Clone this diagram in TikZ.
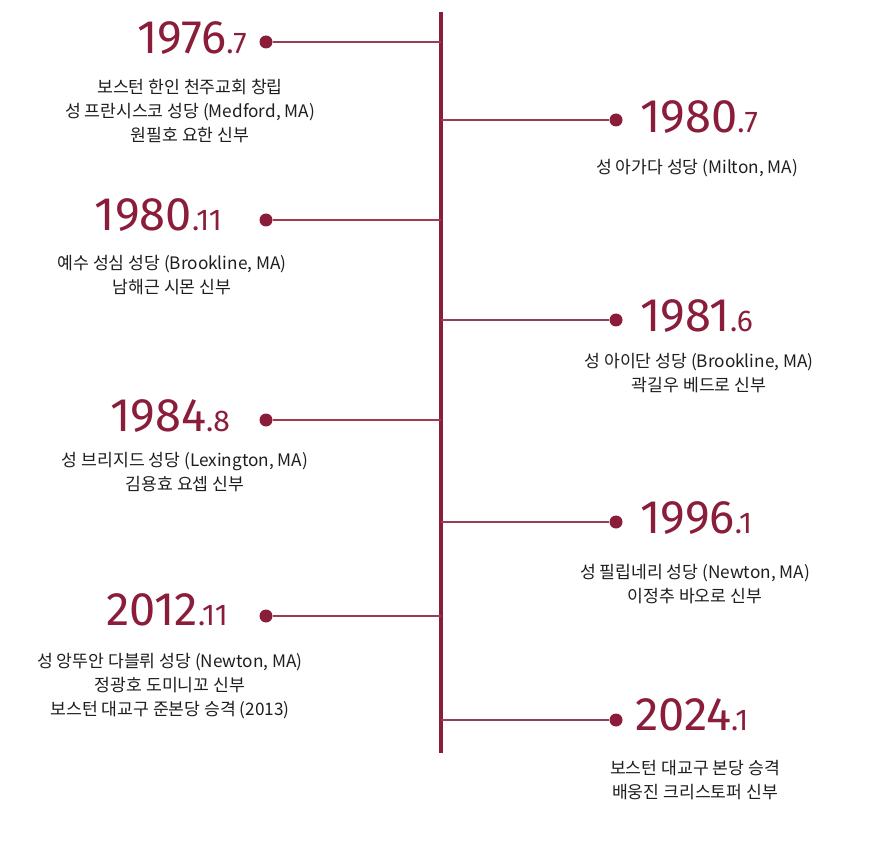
\documentclass[tikz,border=0pt]{standalone}
\usepackage{fontspec}
\newfontfamily\kr{Noto Sans CJK KR}
\newfontfamily\yr{Fira Sans}
\definecolor{wine}{HTML}{8A1D3A}
\definecolor{wineline}{HTML}{9A3C52}
\definecolor{ink}{HTML}{1E1E1E}
\tikzset{
  x=1pt,y=-1pt,
  yearL/.style={anchor=base east,inner sep=0pt,text=wine},
  yearR/.style={anchor=base west,inner sep=0pt,text=wine},
  desc/.style={anchor=north,inner sep=0pt,align=center,text=ink,font=\kr\fontsize{17.2}{24}\selectfont},
  dot/.style={circle,fill=wine,inner sep=0pt,minimum size=13pt},
  branch/.style={draw=wineline,line width=1.4pt},
  spine/.style={draw=wine,line width=4pt}
}
\newcommand{\yy}[2]{{\yr\fontsize{47}{47}\selectfont #1}{\yr\fontsize{30}{30}\selectfont .#2}}
\begin{document}
\begin{tikzpicture}
\useasboundingbox (0,0) rectangle (871,853);
\coordinate (top) at (441,12);
\coordinate (bot) at (441,753);
\draw[spine] (top) -- (bot);
% left entries
\foreach \n/\y in {a/42,b/220,c/420,d/616}{
  \node[dot] (dot\n) at (266,\y) {};
  \coordinate (sp\n) at (441,\y);
  \draw[branch] (dot\n) -- (sp\n);
}
\foreach \n/\y in {e/120,f/320,g/522,h/720}{
  \node[dot] (dot\n) at (616,\y) {};
  \coordinate (sp\n) at (441,\y);
  \draw[branch] (sp\n) -- (dot\n);
}
\node[yearL] (ya) at (247,54) {\yy{1976}{7}};
\node[desc] (ta) at (190,79) {보스턴 한인 천주교회 창립\\성 프란시스코 성당 (Medford, MA)\\원필호 요한 신부};
\node[yearL] (yb) at (222,231) {\yy{1980}{11}};
\node[desc] (tb) at (172,255) {예수 성심 성당 (Brookline, MA)\\남해근 시몬 신부};
\node[yearL] (yc) at (230,431) {\yy{1984}{8}};
\node[desc] (tc) at (185,452) {성 브리지드 성당 (Lexington, MA)\\김용효 요셉 신부};
\node[yearL] (yd) at (228,625) {\yy{2012}{11}};
\node[desc] (td) at (170,653) {성 앙뚜안 다블뤼 성당 (Newton, MA)\\정광호 도미니꼬 신부\\보스턴 대교구 준본당 승격 (2013)};
% right entries
\node[yearR] (ye) at (640,133) {\yy{1980}{7}};
\node[desc] (te) at (697,159) {성 아가다 성당 (Milton, MA)};
\node[yearR] (yf) at (640,331) {\yy{1981}{6}};
\node[desc] (tf) at (699,353) {성 아이단 성당 (Brookline, MA)\\곽길우 베드로 신부};
\node[yearR] (yg) at (640,533) {\yy{1996}{1}};
\node[desc] (tg) at (695,564) {성 필립네리 성당 (Newton, MA)\\이정추 바오로 신부};
\node[yearR] (yh) at (635,730) {\yy{2024}{1}};
\node[desc] (th) at (695,760) {보스턴 대교구 본당 승격\\배웅진 크리스토퍼 신부};
\end{tikzpicture}
\end{document}
